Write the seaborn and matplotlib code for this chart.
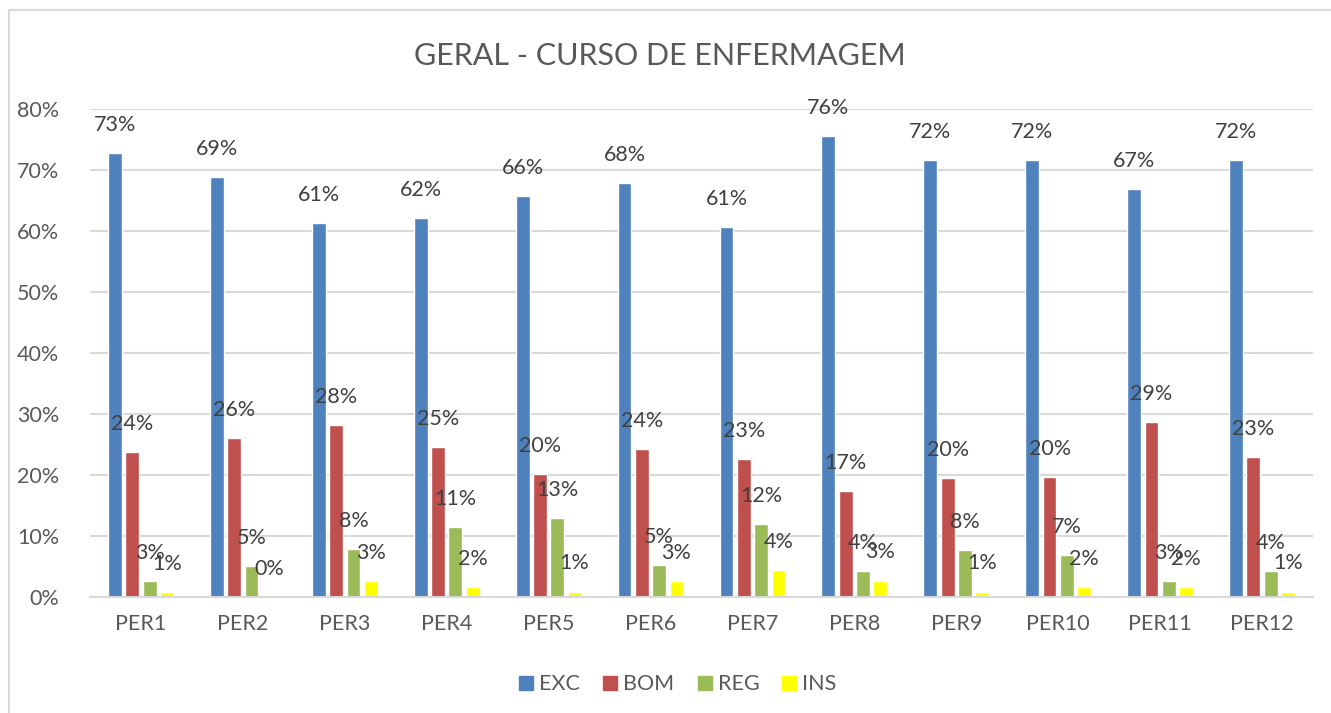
import pandas as pd
import numpy as np
import matplotlib.pyplot as plt
import seaborn as sns
from matplotlib.lines import Line2D
from matplotlib.ticker import PercentFormatter

# values (fractions)
periods = ["PER1", "PER2", "PER3", "PER4", "PER5", "PER6",
           "PER7", "PER8", "PER9", "PER10", "PER11", "PER12"]
exc = [0.728, 0.688, 0.613, 0.622, 0.658, 0.678, 0.607, 0.755, 0.717, 0.716, 0.669, 0.717]
bom = [0.237, 0.260, 0.282, 0.246, 0.202, 0.243, 0.226, 0.173, 0.195, 0.196, 0.287, 0.230]
reg = [0.026, 0.050, 0.078, 0.114, 0.130, 0.052, 0.120, 0.043, 0.077, 0.069, 0.026, 0.043]
ins = [0.008, 0.000, 0.026, 0.017, 0.009, 0.026, 0.044, 0.027, 0.009, 0.017, 0.017, 0.009]
series_names = ["EXC", "BOM", "REG", "INS"]
colors = ["#4F81BD", "#C0504D", "#9BBB59", "#FFFF00"]

df = pd.DataFrame({"periodo": periods, "EXC": exc, "BOM": bom, "REG": reg, "INS": ins})
long_df = df.melt(id_vars="periodo", var_name="grupo", value_name="valor")

sns.set_theme(style="white")
plt.rcParams['font.family'] = ['Lato', 'DejaVu Sans']

fig = plt.figure(figsize=(13.31, 7.13), dpi=100)
ax = fig.add_axes([0.0676, 0.1627, 0.9189, 0.6844])

sns.barplot(data=long_df, x="periodo", y="valor", hue="grupo", order=periods,
            hue_order=series_names, palette=colors, width=0.68, gap=0.2,
            ax=ax, legend=False, saturation=1)

# data labels above each bar
for container in ax.containers:
    labels = [f"{v * 100:.0f}%" for v in container.datavalues]
    ax.bar_label(container, labels=labels, padding=13, fontsize=15.5, color="#404040")

ax.set_ylim(0, 0.8)
ax.set_xlim(-0.5, len(periods) - 0.5)
ax.set_yticks(np.arange(0, 0.81, 0.1))
ax.yaxis.set_major_formatter(PercentFormatter(1.0, decimals=0))
ax.grid(axis="y", color="#D9D9D9", linewidth=1.5)
ax.set_axisbelow(True)
for s in ["top", "right", "left"]:
    ax.spines[s].set_visible(False)
ax.spines["bottom"].set_color("#D9D9D9")
ax.spines["bottom"].set_linewidth(1.5)
ax.tick_params(axis="both", length=0, labelsize=15.5, colors="#595959")
ax.tick_params(axis="y", pad=22)
ax.tick_params(axis="x", pad=12)
ax.set_xlabel("")
ax.set_ylabel("")

fig.text(0.496, 0.922, "GERAL - CURSO DE ENFERMAGEM", ha="center", va="center",
         fontsize=22, color="#595959")

handles = [Line2D([0], [0], marker="s", linestyle="", markersize=9.5,
                  markerfacecolor=c, markeredgecolor=c) for c in colors]
fig.legend(handles, series_names, loc="center", bbox_to_anchor=(0.508, 0.04), ncol=4,
           frameon=False, fontsize=15.5, labelcolor="#595959", handletextpad=0.1,
           columnspacing=0.9, handlelength=1.0)

# light chart-area border (top and left edges visible in the crop)
fig.add_artist(Line2D([9 / 1331, 1], [1 - 10 / 713, 1 - 10 / 713], color="#D9D9D9",
                      linewidth=1.5, transform=fig.transFigure))
fig.add_artist(Line2D([9 / 1331, 9 / 1331], [0, 1 - 10 / 713], color="#D9D9D9",
                      linewidth=1.5, transform=fig.transFigure))

fig.savefig("out.png", dpi=100)
